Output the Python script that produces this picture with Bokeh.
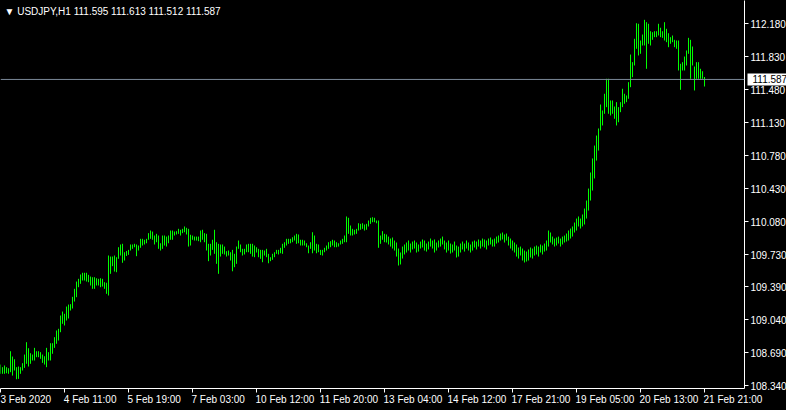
from bokeh.plotting import figure
from bokeh.models import (Range1d, FixedTicker, NumeralTickFormatter, Span, Label,
                          LinearAxis, GlobalInlineStyleSheet)
from bokeh.embed import file_html
from bokeh.resources import INLINE

symbol = "USDJPY,H1"
last_open = 111.595
last_close = 111.587

# hourly bar highs (bar 0 = first visible bar, 3 Feb 2020)
highs = [
    # 0-34
    108.564, 108.536, 108.554, 108.536, 108.525, 108.705, 108.649, 108.620, 108.536, 108.543,
    108.536, 108.578, 108.670, 108.801, 108.737, 108.684, 108.670, 108.741, 108.705, 108.705,
    108.695, 108.670, 108.652, 108.741, 108.695, 108.790, 108.790, 108.854, 108.925, 108.943,
    109.084, 109.126, 109.102, 109.179, 109.200,
    # 35-64
    109.204, 109.282, 109.367, 109.444, 109.473, 109.519, 109.537, 109.537, 109.537, 109.515,
    109.497, 109.490, 109.490, 109.479, 109.473, 109.479, 109.473, 109.437, 109.431, 109.720,
    109.709, 109.709, 109.720, 109.702, 109.808, 109.837, 109.844, 109.755, 109.768, 109.780,
    # 65-96
    109.837, 109.837, 109.844, 109.837, 109.826, 109.897, 109.897, 109.887, 109.897, 109.957,
    109.985, 109.974, 109.932, 109.950, 109.932, 109.850, 109.932, 109.932, 109.921, 109.932,
    109.985, 109.985, 109.974, 109.978, 110.003, 109.993, 110.003, 110.028, 110.014, 110.003,
    109.940, 109.932,
    # 97-128
    109.921, 109.921, 109.921, 109.985, 109.993, 109.957, 109.950, 109.844, 109.844, 109.887,
    109.993, 109.861, 109.844, 109.837, 109.837, 109.815, 109.766, 109.773, 109.755, 109.780,
    109.738, 109.815, 109.879, 109.837, 109.791, 109.791, 109.837, 109.844, 109.844, 109.844,
    109.826, 109.808,
    # 129-160
    109.791, 109.780, 109.780, 109.773, 109.791, 109.738, 109.702, 109.738, 109.755, 109.780,
    109.780, 109.802, 109.844, 109.861, 109.897, 109.897, 109.897, 109.914, 109.932, 109.950,
    109.943, 109.887, 109.887, 109.879, 109.850, 109.826, 109.861, 109.967, 109.932, 109.844,
    109.837, 109.780,
    # 161-192
    109.780, 109.802, 109.826, 109.861, 109.872, 109.887, 109.879, 109.861, 109.850, 109.879,
    109.897, 109.932, 110.134, 110.120, 110.038, 110.003, 109.993, 110.003, 110.062, 110.056,
    110.062, 110.049, 110.056, 110.091, 110.120, 110.126, 110.120, 110.091, 110.091, 109.932,
    109.978, 109.950,
    # 193-299
    109.943, 109.921, 109.900, 109.911, 109.879, 109.858, 109.794, 109.752, 109.815, 109.837,
    109.858, 109.879, 109.847, 109.868, 109.879, 109.858, 109.837, 109.868, 109.890, 109.879,
    109.847, 109.868, 109.900, 109.879, 109.890, 109.858, 109.879, 109.900, 109.921, 109.879,
    109.858, 109.879, 109.847, 109.837, 109.868, 109.826, 109.815, 109.847, 109.868, 109.847,
    109.879, 109.858, 109.837, 109.868, 109.879, 109.868, 109.890, 109.879, 109.900, 109.890,
    109.879, 109.900, 109.911, 109.890, 109.900, 109.921, 109.932, 109.953, 109.964, 109.943,
    109.953, 109.921, 109.900, 109.879, 109.858, 109.837, 109.805, 109.815, 109.794, 109.773,
    109.762, 109.784, 109.805, 109.794, 109.815, 109.826, 109.815, 109.837, 109.826, 109.847,
    109.879, 109.985, 109.964, 109.921, 109.900, 109.911, 109.921, 109.900, 109.921, 109.932,
    109.953, 109.985, 110.006, 110.028, 110.070, 110.112, 110.134, 110.112, 110.155, 110.218,
    110.303, 110.430, 110.600, 110.749, 110.886, 110.992, 111.067,
    # 300-352
    111.321, 111.258, 111.435, 111.594, 111.594, 111.364, 111.364, 111.300, 111.346, 111.293,
    111.346, 111.488, 111.435, 111.417, 111.558, 111.851, 111.770, 112.018, 112.183, 112.177,
    112.000, 112.063, 112.219, 112.194, 112.177, 112.098, 112.088, 112.098, 112.098, 112.177,
    112.135, 112.098, 112.194, 112.124, 112.077, 112.035, 112.053, 112.007, 112.000, 112.000,
    111.753, 111.770, 111.830, 111.894, 112.028, 112.007, 111.936, 111.724, 111.770, 111.770,
    111.700, 111.674, 111.613,
]

# hourly bar lows
lows = [
    # 0-34
    108.466, 108.466, 108.466, 108.472, 108.466, 108.483, 108.447, 108.501, 108.408, 108.412,
    108.466, 108.501, 108.529, 108.572, 108.543, 108.572, 108.607, 108.607, 108.642, 108.642,
    108.625, 108.582, 108.564, 108.536, 108.607, 108.607, 108.678, 108.741, 108.784, 108.819,
    108.907, 108.996, 108.978, 109.031, 109.052,
    # 35-64
    109.137, 109.158, 109.232, 109.278, 109.384, 109.420, 109.455, 109.455, 109.444, 109.437,
    109.402, 109.367, 109.367, 109.402, 109.402, 109.384, 109.391, 109.367, 109.314, 109.296,
    109.526, 109.607, 109.550, 109.543, 109.685, 109.720, 109.643, 109.667, 109.715, 109.727,
    # 65-96
    109.773, 109.791, 109.808, 109.713, 109.773, 109.802, 109.826, 109.837, 109.850, 109.887,
    109.897, 109.887, 109.837, 109.861, 109.791, 109.773, 109.791, 109.826, 109.815, 109.850,
    109.887, 109.887, 109.932, 109.943, 109.950, 109.932, 109.957, 109.967, 109.943, 109.815,
    109.826, 109.887,
    # 97-128
    109.879, 109.879, 109.872, 109.861, 109.887, 109.861, 109.773, 109.660, 109.720, 109.780,
    109.738, 109.632, 109.526, 109.709, 109.738, 109.731, 109.709, 109.720, 109.667, 109.553,
    109.596, 109.632, 109.791, 109.755, 109.720, 109.731, 109.755, 109.755, 109.738, 109.709,
    109.702, 109.752,
    # 129-160
    109.702, 109.685, 109.649, 109.720, 109.702, 109.638, 109.660, 109.674, 109.702, 109.738,
    109.731, 109.744, 109.738, 109.802, 109.826, 109.844, 109.850, 109.861, 109.879, 109.844,
    109.850, 109.826, 109.826, 109.826, 109.808, 109.744, 109.791, 109.744, 109.773, 109.744,
    109.755, 109.725,
    # 161-192
    109.720, 109.755, 109.773, 109.791, 109.808, 109.826, 109.808, 109.808, 109.815, 109.837,
    109.844, 109.861, 109.861, 109.950, 109.932, 109.932, 109.943, 109.950, 109.985, 109.993,
    110.003, 109.985, 109.993, 110.028, 110.056, 110.073, 110.073, 110.062, 109.802, 109.844,
    109.887, 109.861,
    # 193-299
    109.858, 109.837, 109.815, 109.794, 109.773, 109.709, 109.614, 109.625, 109.688, 109.731,
    109.752, 109.773, 109.752, 109.784, 109.794, 109.752, 109.762, 109.794, 109.805, 109.773,
    109.762, 109.784, 109.815, 109.794, 109.752, 109.773, 109.805, 109.815, 109.837, 109.784,
    109.752, 109.773, 109.741, 109.752, 109.773, 109.699, 109.709, 109.752, 109.784, 109.762,
    109.794, 109.773, 109.752, 109.773, 109.805, 109.784, 109.815, 109.794, 109.815, 109.805,
    109.784, 109.826, 109.837, 109.815, 109.815, 109.847, 109.858, 109.879, 109.890, 109.858,
    109.879, 109.826, 109.794, 109.773, 109.752, 109.709, 109.688, 109.720, 109.667, 109.646,
    109.656, 109.667, 109.699, 109.688, 109.720, 109.731, 109.709, 109.752, 109.731, 109.762,
    109.773, 109.815, 109.858, 109.837, 109.815, 109.826, 109.847, 109.815, 109.837, 109.858,
    109.868, 109.879, 109.900, 109.921, 109.964, 109.985, 110.028, 110.006, 110.028, 110.049,
    110.112, 110.197, 110.303, 110.409, 110.537, 110.727, 110.833,
    # 300-352
    111.046, 111.099, 111.223, 111.293, 111.223, 111.205, 111.223, 111.170, 111.099, 111.133,
    111.240, 111.293, 111.329, 111.346, 111.382, 111.505, 111.611, 111.735, 111.912, 111.841,
    111.859, 111.947, 111.947, 111.700, 111.965, 111.947, 112.007, 112.035, 112.035, 112.053,
    112.035, 112.028, 112.000, 111.982, 111.929, 111.965, 111.982, 111.929, 111.912, 111.682,
    111.477, 111.682, 111.682, 111.735, 111.859, 111.594, 111.735, 111.470, 111.594, 111.594,
    111.594, 111.594, 111.512,
]

time_tick_bars = [0, 32, 64, 96, 128, 160, 192, 224, 256, 288, 320, 352]
time_tick_labels = ["3 Feb 2020", "4 Feb 11:00", "5 Feb 19:00", "7 Feb 03:00",
                    "10 Feb 12:00", "11 Feb 20:00", "13 Feb 04:00", "14 Feb 12:00",
                    "17 Feb 21:00", "19 Feb 05:00", "20 Feb 13:00", "21 Feb 21:00"]
price_ticks = [108.34, 108.69, 109.04, 109.39, 109.73, 110.08, 110.43, 110.78,
               111.13, 111.48, 111.83, 112.18]

FONT = "Liberation Sans"
FS = 10                     # px
FRAME_W, FRAME_H = 744, 388
PX_PER_BAR = 2.0
Y_LO, Y_HI = 108.31, 112.424
bars = list(range(len(highs)))

# approximate advance widths (Arial metrics) to left-align time labels at their ticks
_adv = {" ": 0.278, ":": 0.278, "F": 0.611, "e": 0.556, "b": 0.556}
def text_width(s):
    return sum(_adv.get(c, 0.556) for c in s) * FS

x0 = 0.0
x1 = x0 + FRAME_W / PX_PER_BAR
p = figure(frame_width=FRAME_W, frame_height=FRAME_H, output_backend="svg",
           toolbar_location=None,
           x_range=Range1d(x0, x1),
           y_range=Range1d(Y_LO, Y_HI),
           y_axis_location="right",
           background_fill_color="black", border_fill_color="black",
           min_border_left=0, min_border_top=0, min_border_right=0, min_border_bottom=0)
p.stylesheets = [GlobalInlineStyleSheet(
    css="html, body {margin:0 !important; padding:0; background:#000; overflow:hidden;}")]
p.outline_line_color = None
p.xgrid.visible = False
p.ygrid.visible = False

p.segment(x0=bars, y0=lows, x1=bars, y1=highs, line_color="#00ff00", line_width=1)

p.add_layout(Span(location=last_close, dimension="width", line_color="#7b8898", line_width=1))

for ax in (p.xaxis[0], p.yaxis[0]):
    ax.axis_line_color = "white"
    ax.major_tick_line_color = "white"
    ax.minor_tick_line_color = None
    ax.major_tick_in = 0
    ax.major_tick_out = 4
    ax.major_label_standoff = 2
    ax.major_label_text_color = "white"
    ax.major_label_text_font = FONT
    ax.major_label_text_font_size = f"{FS}px"

p.yaxis.ticker = FixedTicker(ticks=price_ticks)
p.yaxis.formatter = NumeralTickFormatter(format="0.000")

# time axis: tick marks on the frame edge (as unlabelled minor ticks) ...
p.xaxis.ticker = FixedTicker(ticks=[], minor_ticks=time_tick_bars)
p.xaxis.minor_tick_line_color = "white"
p.xaxis.minor_tick_in = 0
p.xaxis.minor_tick_out = 4
p.xaxis.major_label_standoff = 0
# ... and the labels, left-aligned at each tick (MetaTrader style)
label_pos = [b + (text_width(t) / 2 - 1) / PX_PER_BAR for b, t in zip(time_tick_bars, time_tick_labels)]
time_axis = LinearAxis(ticker=FixedTicker(ticks=label_pos),
                       major_label_overrides=dict(zip(label_pos, time_tick_labels)),
                       axis_line_color=None, major_tick_line_color=None,
                       minor_tick_line_color=None, major_tick_in=0, major_tick_out=0,
                       major_label_standoff=1, major_label_text_color="white",
                       major_label_text_font=FONT, major_label_text_font_size=f"{FS}px")
p.add_layout(time_axis, "below")

# current-price tag: an outer one-tick axis whose wide white tick reaches back (inward)
# over the price scale to form the tag box, with its label pulled back onto the box
TAG_W = 42
tag_axis = LinearAxis(ticker=FixedTicker(ticks=[last_close]),
                      formatter=NumeralTickFormatter(format="0.000"),
                      axis_line_color=None,
                      major_tick_line_color="white", major_tick_line_width=12,
                      major_tick_in=TAG_W, major_tick_out=0,
                      minor_tick_line_color=None,
                      major_label_standoff=-37, major_label_text_color="black",
                      major_label_text_font=FONT, major_label_text_font_size=f"{FS}px")
p.add_layout(tag_axis, "right")

title = f"\u25BC  {symbol}  {last_open:.3f} {highs[-1]:.3f} {lows[-1]:.3f} {last_close:.3f}"
p.add_layout(Label(x=4, y=FRAME_H - 5, x_units="screen", y_units="screen", text=title,
                   text_color="white", text_font=FONT, text_font_size=f"{FS}px",
                   text_baseline="top"))

open("out.html", "w").write(file_html(p, INLINE))
